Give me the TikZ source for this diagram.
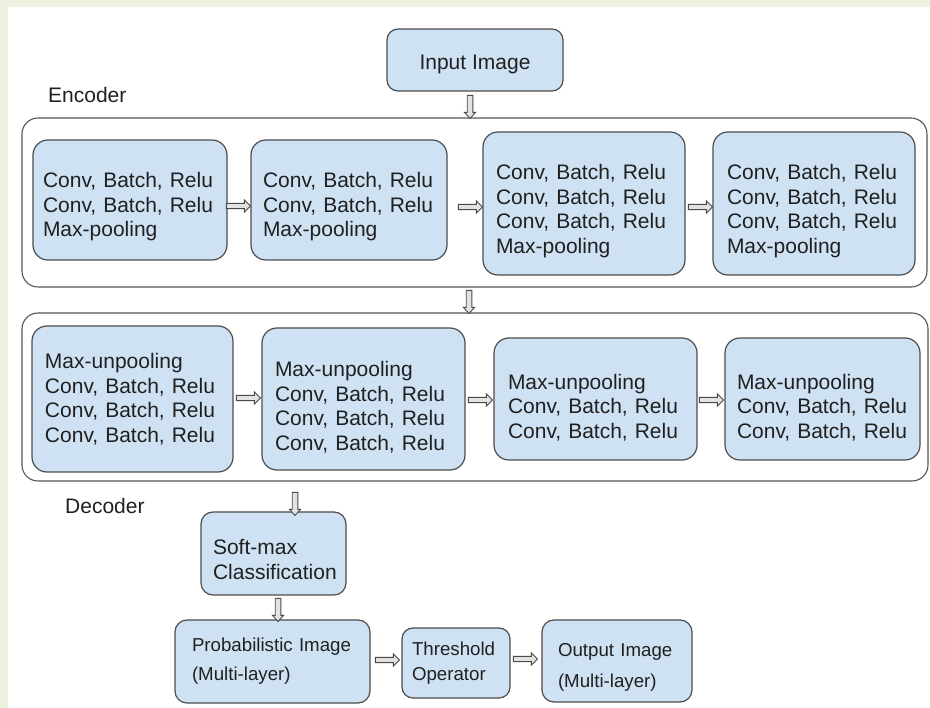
\documentclass[tikz,border=0pt]{standalone}
\usepackage{fontspec}
\setmainfont{Liberation Sans}
\usetikzlibrary{calc}

\definecolor{boxfill}{HTML}{CFE2F3}
\definecolor{boxline}{HTML}{4D4D4D}
\definecolor{frameline}{HTML}{555555}
\definecolor{ink}{HTML}{202020}
\definecolor{arrowline}{HTML}{4A4A4A}
\definecolor{arrowfill}{HTML}{E2E2E2}
\definecolor{strip}{HTML}{EDF1E0}

\begin{document}
\begin{tikzpicture}[x=1pt, y=-1pt,
  bigfont/.style={font=\fontsize{21pt}{24.5pt}\selectfont},
  smallfont/.style={font=\fontsize{18.7pt}{29pt}\selectfont},
  box/.style={draw=boxline, line width=1.2pt, fill=boxfill, rounded corners=15pt,
              text=ink, align=left, inner ysep=0pt, bigfont},
  % a taller first line moves the text block down inside its box
  pushdown/.style={execute at begin node={\rule{0pt}{#1}}},
  frame/.style={draw=frameline, line width=1.1pt, fill=white, rounded corners=16pt,
                inner sep=0pt},
  lbl/.style={text=ink, inner sep=0pt, bigfont},
  % hollow block arrow pointing right, tip on the target point
  harrow/.style={draw=arrowline, fill=arrowfill, line width=0.9pt, line join=miter,
    to path={let \p2=(\tikztotarget) in
      ({\x2-24pt},{\y2+2.6pt}) -- ({\x2-6pt},{\y2+2.6pt}) -- ({\x2-6pt},{\y2+6pt})
      -- (\x2,\y2) -- ({\x2-6pt},{\y2-6pt}) -- ({\x2-6pt},{\y2-2.6pt})
      -- ({\x2-24pt},{\y2-2.6pt}) -- cycle}},
  % hollow block arrow pointing down, tip on the target point
  varrow/.style={draw=arrowline, fill=arrowfill, line width=0.9pt, line join=miter,
    to path={let \p2=(\tikztotarget) in
      ({\x2-2.8pt},{\y2+23pt}) -- ({\x2-2.8pt},{\y2+6pt}) -- ({\x2-5.5pt},{\y2+6pt})
      -- (\x2,\y2) -- ({\x2+5.5pt},{\y2+6pt}) -- ({\x2+2.8pt},{\y2+6pt})
      -- ({\x2+2.8pt},{\y2+23pt}) -- cycle}},
]
\useasboundingbox (0,0) rectangle (930,708);
\fill[white] (0,0) rectangle (930,708);
\fill[strip] (0,0) rectangle (8,708);
\fill[strip] (0,0) rectangle (930,7);

% input
\node[box, align=center, pushdown=23pt, rounded corners=11pt, minimum width=176pt,
  minimum height=62pt] (Inp) at (475,60) {Input Image};

% encoder
\node[lbl, anchor=west] (EncLabel) at (48,95) {Encoder};
\node[frame, minimum width=905pt, minimum height=169pt] (Enc) at (474.5,202.5) {};
\node[box, pushdown=29pt, text width=174pt, inner xsep=10pt, minimum height=120pt]
  (E1) at (130,200) {Conv, Batch, Relu\\Conv, Batch, Relu\\Max-pooling};
\node[box, pushdown=29pt, text width=172pt, inner xsep=12pt, minimum height=120pt]
  (E2) at (349,200) {Conv, Batch, Relu\\Conv, Batch, Relu\\Max-pooling};
\node[box, pushdown=30pt, text width=176pt, inner xsep=13pt, minimum height=143pt]
  (E3) at (584,203.5) {Conv, Batch, Relu\\Conv, Batch, Relu\\Conv, Batch, Relu\\Max-pooling};
\node[box, pushdown=30pt, text width=174pt, inner xsep=14pt, minimum height=143pt]
  (E4) at (814,203.5) {Conv, Batch, Relu\\Conv, Batch, Relu\\Conv, Batch, Relu\\Max-pooling};

% decoder
\node[frame, minimum width=906pt, minimum height=168pt] (Dec) at (475,397) {};
\node[box, text width=175pt, inner xsep=13pt, minimum height=146pt] (D1) at (132.5,399)
  {Max-unpooling\\Conv, Batch, Relu\\Conv, Batch, Relu\\Conv, Batch, Relu};
\node[box, pushdown=32pt, text width=177pt, inner xsep=13pt, minimum height=142pt]
  (D2) at (363.5,399) {Max-unpooling\\Conv, Batch, Relu\\Conv, Batch, Relu\\Conv, Batch, Relu};
\node[box, pushdown=32pt, text width=175pt, inner xsep=14pt, minimum height=122pt]
  (D3) at (595.5,399) {Max-unpooling\\Conv, Batch, Relu\\Conv, Batch, Relu};
\node[box, pushdown=32pt, text width=171pt, inner xsep=12pt, minimum height=122pt]
  (D4) at (822.5,399) {Max-unpooling\\Conv, Batch, Relu\\Conv, Batch, Relu};
\node[lbl, anchor=west] (DecLabel) at (65,506) {Decoder};

% classification and output
\node[box, pushdown=27pt, rounded corners=12pt, text width=121pt, inner xsep=12pt,
  minimum height=83pt] (Soft) at (273.5,553.5) {Soft-max\\Classification};
\node[box, smallfont, rounded corners=12pt, text width=161pt, inner xsep=17pt,
  minimum height=83pt] (Prob) at (272.5,661.5) {Probabilistic Image\\(Multi-layer)};
\node[box, font=\fontsize{18.7pt}{25pt}\selectfont, rounded corners=11pt, text width=88pt,
  inner xsep=10pt, minimum height=70pt] (Thr) at (456,663) {Threshold\\Operator};
\node[box, font=\fontsize{18.7pt}{31pt}\selectfont, pushdown=26pt, rounded corners=12pt,
  text width=118pt, inner xsep=16pt, minimum height=82pt]
  (Out) at (617,661) {Output Image\\(Multi-layer)};

% connectors
\draw[varrow] (Inp.south) to ([xshift=-4.5pt,yshift=-1pt]Enc.north);
\draw[harrow] (E1.east) to ([yshift=-6pt]E2.west);
\draw[harrow] (E2.east) to ([yshift=-3.5pt]E3.west);
\draw[harrow] (E3.east) to ([yshift=-3.5pt]E4.west);
\draw[varrow] (Enc.south) to ([xshift=-6pt,yshift=-1pt]Dec.north);
\draw[harrow] (D1.east) to ([xshift=-1pt,yshift=1pt]D2.west);
\draw[harrow] (D2.east) to ([xshift=-1pt,yshift=-1pt]D3.west);
\draw[harrow] (D3.east) to ([xshift=-1pt,yshift=-1pt]D4.west);
\draw[varrow] (Dec.south) to ([xshift=21.5pt,yshift=-4pt]Soft.north);
\draw[varrow] (Soft.south) to ([xshift=5.5pt,yshift=-2pt]Prob.north);
\draw[harrow] (Prob.east) to ([xshift=-2pt,yshift=3pt]Thr.west);
\draw[harrow] (Thr.east) to ([xshift=-4pt,yshift=2pt]Out.west);
\end{tikzpicture}
\end{document}
